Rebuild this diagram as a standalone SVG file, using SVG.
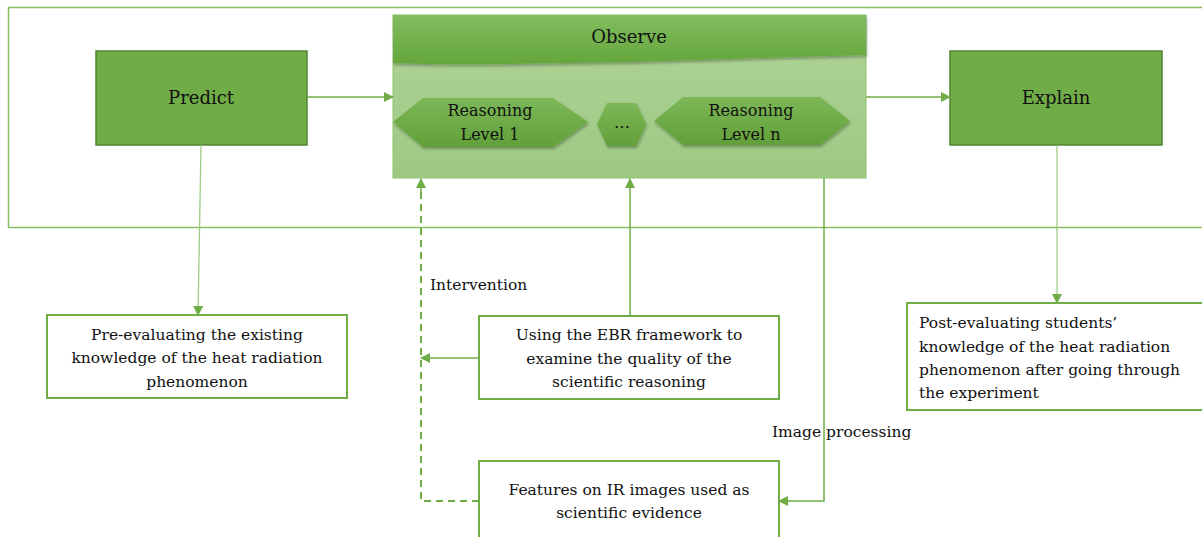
<svg xmlns="http://www.w3.org/2000/svg" width="1202" height="537" viewBox="0 0 1202 537">
<style>
text{font-family:"DejaVu Serif",serif;fill:#111;}
.big{font-size:18px;}
.t{font-size:15.5px;}
.h{font-size:16px;}
.mid{text-anchor:middle;}
.node{fill:#70AD47;stroke:#548235;stroke-width:1.5;}
.box{fill:#fff;stroke:#70AD47;stroke-width:2;}
.c{fill:none;stroke:#70AD47;stroke-width:1.5;}
.thin{fill:none;stroke:#9ccc85;stroke-width:1.3;}
.dash{fill:none;stroke:#70AD47;stroke-width:2;stroke-dasharray:7,5;}
.hex{fill:url(#hg);filter:url(#sh);}
</style>
<defs>
<linearGradient id="hdr" x1="0" y1="0" x2="0" y2="1"><stop offset="0" stop-color="#82bd5f"/><stop offset="1" stop-color="#64a63b"/></linearGradient>
<linearGradient id="body" x1="0" y1="0" x2="0" y2="1"><stop offset="0" stop-color="#b0d498"/><stop offset="1" stop-color="#9dc983"/></linearGradient>
<linearGradient id="hg" x1="0" y1="0" x2="0" y2="1"><stop offset="0" stop-color="#7cb857"/><stop offset="1" stop-color="#62a03b"/></linearGradient>
<filter id="sh" x="-10%" y="-20%" width="120%" height="150%"><feDropShadow dx="1" dy="2" stdDeviation="1.5" flood-color="#000" flood-opacity="0.3"/></filter>
<marker id="ar" markerWidth="10" markerHeight="10" refX="9" refY="5" orient="auto" markerUnits="userSpaceOnUse"><path d="M0,0 L10,5 L0,10 Z" fill="#70AD47"/></marker>
</defs>

<g id="frame"><rect x="8.5" y="7.5" width="1200" height="220" fill="none" stroke="#86bd66" stroke-width="1.5"/></g>

<g id="predict"><rect class="node" x="96" y="51" width="211" height="94"/><text class="big mid" x="201" y="104">Predict</text></g>

<g id="explain"><rect class="node" x="950" y="51" width="212" height="94"/><text class="big mid" x="1056" y="104">Explain</text></g>

<g id="observe">
<rect x="393" y="15" width="473" height="163" fill="url(#body)" stroke="#8cc46c" stroke-width="1"/>
<path d="M393,15 H866 V55 C790,57 700,60 630,62 C540,63 470,66 393,63 Z" fill="url(#hdr)" filter="url(#sh)"/>
<text class="big mid" x="629" y="43">Observe</text>
</g>

<g id="level1"><polygon class="hex" points="393,122 423,98 553,98 588,122 553,147 423,147"/><text class="h mid" x="490" y="116">Reasoning</text><text class="h mid" x="490" y="140">Level  1</text></g>
<g id="dots"><polygon class="hex" points="597,124 607,103 636,103 646,124 636,146 607,146"/><text class="h mid" x="622" y="128">…</text></g>
<g id="leveln"><polygon class="hex" points="654,121 683,97 820,97 850,121 820,145 683,145"/><text class="h mid" x="751" y="116">Reasoning</text><text class="h mid" x="751" y="140">Level  n</text></g>

<g id="pre"><rect class="box" x="47" y="315" width="300" height="83"/>
<text class="t mid" x="197" y="340">Pre-evaluating  the existing</text>
<text class="t mid" x="197" y="363">knowledge of the heat radiation</text>
<text class="t mid" x="197" y="387">phenomenon</text></g>

<g id="ebr"><rect class="box" x="479" y="316" width="300" height="83"/>
<text class="t mid" x="629" y="340">Using the EBR framework to</text>
<text class="t mid" x="629" y="364">examine the quality of the</text>
<text class="t mid" x="629" y="387">scientific reasoning</text></g>

<g id="features"><rect class="box" x="479" y="461" width="300" height="90"/>
<text class="t mid" x="629" y="495">Features on IR images used as</text>
<text class="t mid" x="629" y="518">scientific evidence</text></g>

<g id="post"><rect class="box" x="907" y="303" width="310" height="107"/>
<text class="t" x="919" y="328">Post-evaluating students’</text>
<text class="t" x="919" y="352">knowledge of the heat radiation</text>
<text class="t" x="919" y="375">phenomenon after going through</text>
<text class="t" x="919" y="398">the experiment</text></g>

<g id="connectors">
<line class="c" x1="307" y1="97" x2="393" y2="97" marker-end="url(#ar)" stroke-width="2"/>
<line class="c" x1="866" y1="97" x2="950" y2="97" marker-end="url(#ar)" stroke-width="2"/>
<line class="thin" x1="201" y1="145" x2="198" y2="315" marker-end="url(#ar)"/>
<line class="thin" x1="1057" y1="145" x2="1057" y2="303" marker-end="url(#ar)"/>
<line class="c" x1="630" y1="316" x2="630" y2="179" marker-end="url(#ar)"/>
<line class="c" x1="479" y1="358" x2="421" y2="358" marker-end="url(#ar)"/>
<polyline class="dash" points="479,501 421,501 421,190"/>
<line class="c" x1="421" y1="192" x2="421" y2="179" marker-end="url(#ar)" stroke-width="2"/>
<polyline class="c" points="824,178 824,501 779,501" marker-end="url(#ar)"/>
<text class="t" x="430" y="290">Intervention</text>
<text class="t" x="772" y="437">Image processing</text>
</g>
</svg>
